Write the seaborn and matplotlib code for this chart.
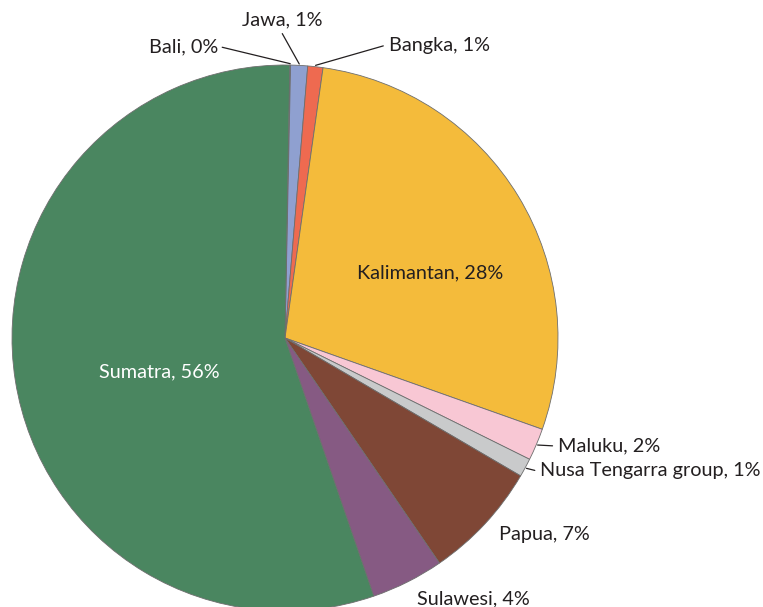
import numpy as np
import matplotlib
matplotlib.use("Agg")
from matplotlib import pyplot as plt
import seaborn as sns

# regions, clockwise from the top
regions = ["Bali", "Jawa", "Bangka", "Kalimantan", "Maluku",
           "Nusa Tengarra group", "Papua", "Sulawesi", "Sumatra"]
shares = [0.05, 1.0, 0.9, 28.2, 1.9, 1.1, 7.0, 4.3, 55.55]
colors = ["#8fa0d0", "#8fa0d0", "#ee6a50", "#f4bb3b", "#f8c7d4",
          "#c9cacb", "#7f4736", "#865a83", "#4a8660"]

# label placement (axes data units, pie radius = 1), None = no leader line
label_xy = [(-0.245, 1.065), (-0.01, 1.165), (0.38, 1.07), (0.53, 0.24),
            (1.0, -0.395), (0.935, -0.485), (0.785, -0.72), (0.485, -0.955),
            (-0.46, -0.125)]
label_ha = ["right", "center", "left", "center", "left", "left", "left", "left", "center"]
leader = [True, True, True, False, True, True, False, False, False]
inside_white = [False] * 8 + [True]

sns.set_theme(style="white")
plt.rcParams["font.family"] = ["Lato", "DejaVu Sans"]

fig = plt.figure(figsize=(7.63, 6.07), dpi=100)
ax = fig.add_axes([0, 0, 1, 1])

wedges, _ = ax.pie(shares, colors=colors, startangle=89, counterclock=False,
                   radius=1, center=(0, 0),
                   wedgeprops=dict(edgecolor="#6e6e6e", linewidth=0.6))

for w, name, v, (tx, ty), ha, ld, wh in zip(wedges, regions, shares, label_xy,
                                            label_ha, leader, inside_white):
    txt = f"{name}, {round(v)}%"
    ax.text(tx, ty, txt, ha=ha, va="center", fontsize=14.3,
            color="white" if wh else "#231f20")
    if ld:
        mid = np.deg2rad((w.theta1 + w.theta2) / 2)
        px, py = np.cos(mid), np.sin(mid)
        if ha == "right":
            sx = tx + 0.015
        elif ha == "left":
            sx = tx - 0.02
        else:
            sx = tx
        sy = ty if ha != "center" else ty - 0.05
        ax.plot([sx, px * 1.005], [sy, py * 1.005], color="#231f20", lw=0.9)

ax.set_xlim(-285 / 273, (763 - 285) / 273)
ax.set_ylim(-(607 - 338) / 273, 338 / 273)
ax.set_aspect("equal")
ax.axis("off")

fig.savefig("out.png", dpi=100, facecolor="white")
